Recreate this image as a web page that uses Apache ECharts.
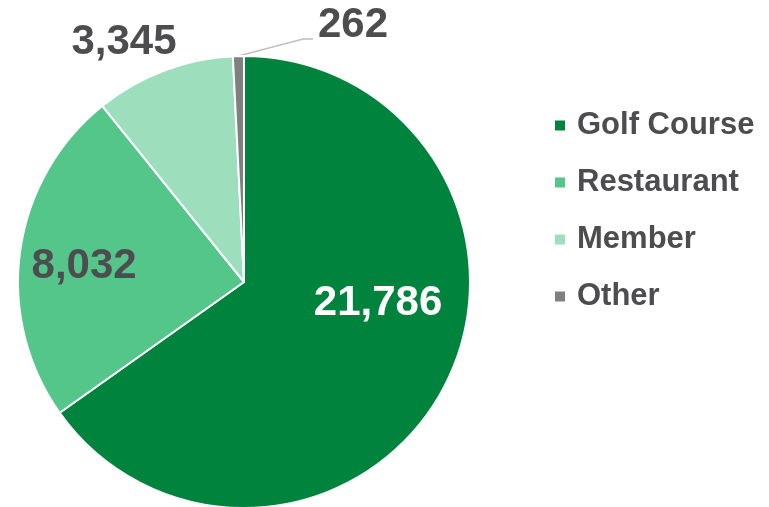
<!DOCTYPE html>
<html>
<head>
<meta charset="utf-8">
<script src="https://cdn.jsdelivr.net/npm/echarts@6/dist/echarts.min.js"></script>
<style>
    html, body {margin: 0; padding: 0; background: #fff;}
    #main_echarts {width: 769px; height: 507px;}
</style>
</head>
<body>
<div id="main_echarts"></div>
<script>
// 数据
var categories = ['Golf Course', 'Restaurant', 'Member', 'Other'];
var values = [21786, 8032, 3345, 262];
var colors = ['#00843D', '#55C68A', '#9DDFBC', '#808080'];
var labelColors = ['#ffffff', '#4D4D4F', '#4D4D4F', '#4D4D4F'];

// label shifts (inside ones) / anchor points (outside ones)
var labelShift = [[31, -32], [-45, 0]];
var labelAnchor = [null, null, [124, 42], [318, 25]];

var textColor = '#4D4D4F';
var fontFamily = '"Liberation Sans", Arial, sans-serif';

var pieData = [];
for (var i = 0; i < categories.length; i++) {
    pieData.push({
        name: categories[i],
        value: values[i],
        itemStyle: {color: colors[i]},
        label: {
            position: i < 2 ? 'inside' : 'outside',
            color: labelColors[i]
        },
        labelLine: {show: i === 3}
    });
}

var myChart = echarts.init(document.getElementById('main_echarts'));
var option = {
    animation: false,
    legend: {
        orient: 'vertical',
        left: 553,
        top: 110,
        padding: 0,
        itemWidth: 12,
        itemHeight: 12,
        itemGap: 26,
        icon: 'rect',
        data: categories,
        textStyle: {
            color: textColor,
            fontSize: 31,
            lineHeight: 31,
            fontWeight: 'bold',
            fontFamily: fontFamily,
            padding: [0, 0, 0, 6]
        }
    },
    series: [{
        type: 'pie',
        center: [244, 282],
        radius: 226,
        startAngle: 90,
        clockwise: true,
        avoidLabelOverlap: false,
        itemStyle: {borderColor: '#fff', borderWidth: 2},
        label: {
            show: true,
            fontSize: 42,
            fontWeight: 'bold',
            fontFamily: fontFamily,
            formatter: function (p) {
                return p.value.toLocaleString('en-US');
            }
        },
        labelLine: {
            lineStyle: {color: '#BFBFBF', width: 1.5}
        },
        labelLayout: function (params) {
            var i = params.dataIndex;
            if (labelShift[i]) {
                return {dx: labelShift[i][0], dy: labelShift[i][1]};
            }
            var a = labelAnchor[i];
            if (i === 3) {
                var p0 = params.labelLinePoints ? params.labelLinePoints[0] : [239, 57];
                return {
                    x: a[0], y: a[1], align: 'left', verticalAlign: 'middle',
                    labelLinePoints: [p0, [a[0] - 15, a[1] + 14], [a[0] - 5, a[1] + 14]]
                };
            }
            return {x: a[0], y: a[1], align: 'center', verticalAlign: 'middle'};
        },
        data: pieData
    }]
};
myChart.setOption(option);
window.onresize = myChart.resize;
</script>
</body>
</html>
